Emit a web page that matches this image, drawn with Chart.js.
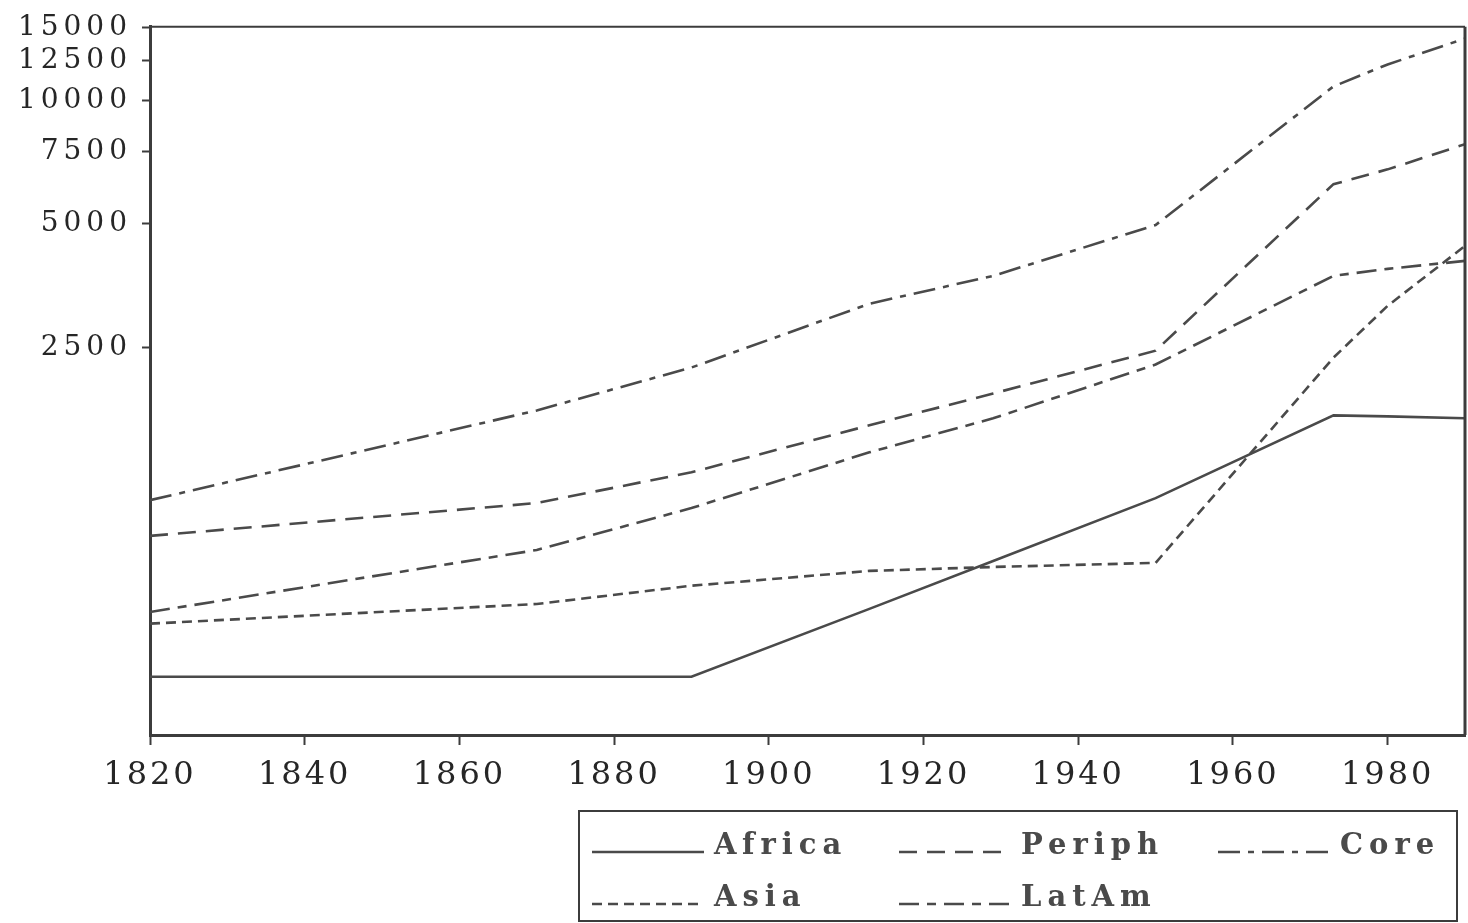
<!DOCTYPE html>
<html>
<head>
<meta charset="utf-8">
<script src="https://cdn.jsdelivr.net/npm/chart.js@4/dist/chart.umd.min.js"></script>
<style>
  html, body { margin: 0; padding: 0; background: #fff; }
  #chart { display: block; }
</style>
</head>
<body>
<canvas id="chart" width="1468" height="923"></canvas>
<script>
// GDP per head, log scale
const years  = [1820, 1870, 1890, 1913, 1929, 1950, 1973, 1980, 1990];
const africa = [395, 395, 395, 578, 756, 1075, 1710, 1700, 1682];
const periph = [870, 1046, 1243, 1617, 1933, 2458, 6250, 6790, 7817];
const core   = [1063, 1758, 2236, 3197, 3738, 4970, 10812, 12228, 14138];
const asia   = [532, 594, 658, 715, 731, 748, 2364, 3160, 4421];
const latam  = [568, 804, 1017, 1390, 1682, 2274, 3738, 3888, 4065];

const xTicks = [1820, 1840, 1860, 1880, 1900, 1920, 1940, 1960, 1980];
const yTicks = [2500, 5000, 7500, 10000, 12500, 15000];

const ink = '#3c3c3c';
const lineInk = '#4a4a4a';
const textInk = '#262626';
const fontFamily = '"DejaVu Serif", "Liberation Serif", serif';

const series = [
  { label: 'Africa', data: africa, dash: [] },
  { label: 'Periph', data: periph, dash: [18, 10] },
  { label: 'Core',   data: core,   dash: [22, 8, 6, 8] },
  { label: 'Asia',   data: asia,   dash: [10, 6] },
  { label: 'LatAm',  data: latam,  dash: [20, 8, 9, 8] },
];

const datasets = series.map(s => ({
  label: s.label,
  data: years.map((y, i) => ({ x: y, y: s.data[i] })),
  borderColor: lineInk,
  borderWidth: 2.6,
  borderDash: s.dash,
  pointRadius: 0,
  tension: 0,
  fill: false,
}));

// the scan uses widely spaced digits, so spread the tick labels out
const spacing = {
  id: 'spacing',
  beforeDraw(chart) {
    [['x', '3px'], ['y', '5px']].forEach(([id, sp]) => {
      const scale = chart.scales[id];
      if (!scale || scale._spaced) return;
      const orig = scale.drawLabels.bind(scale);
      scale.drawLabels = area => {
        chart.ctx.letterSpacing = sp;
        orig(area);
        chart.ctx.letterSpacing = '0px';
      };
      scale._spaced = true;
    });
  }
};

// top and right edges of the box
const frame = {
  id: 'frame',
  afterDatasetsDraw(chart) {
    const { ctx, chartArea: a } = chart;
    ctx.save();
    ctx.strokeStyle = ink;
    ctx.lineWidth = 2;
    ctx.beginPath();
    ctx.moveTo(a.left, a.top);
    ctx.lineTo(a.right, a.top);
    ctx.stroke();
    ctx.lineWidth = 3;
    ctx.beginPath();
    ctx.moveTo(a.right, a.top);
    ctx.lineTo(a.right, a.bottom);
    ctx.stroke();
    ctx.restore();
  }
};

// boxed legend under the plot, two rows
const legendBox = {
  id: 'legendBox',
  afterDraw(chart) {
    const ctx = chart.ctx;
    const cols = [592, 899, 1218];
    const rows = [852, 904];
    ctx.save();
    ctx.strokeStyle = ink;
    ctx.lineWidth = 2;
    ctx.strokeRect(579, 811, 878, 110);
    ctx.font = 'bold 29px ' + fontFamily;
    ctx.fillStyle = '#4a4a4a';
    ctx.textBaseline = 'alphabetic';
    ctx.letterSpacing = '6px';
    chart.data.datasets.forEach((ds, i) => {
      const x = cols[i % 3];
      const y = rows[Math.floor(i / 3)];
      ctx.setLineDash(ds.borderDash);
      ctx.strokeStyle = lineInk;
      ctx.lineWidth = 2.5;
      ctx.beginPath();
      ctx.moveTo(x, y);
      ctx.lineTo(x + 112, y);
      ctx.stroke();
      ctx.setLineDash([]);
      ctx.fillText(ds.label, x + 122, y + 2);
    });
    ctx.restore();
  }
};

new Chart(document.getElementById('chart'), {
  type: 'line',
  data: { datasets },
  options: {
    responsive: false,
    animation: false,
    layout: { padding: { top: 25, right: 3, left: 0, bottom: 0 } },
    plugins: { legend: { display: false }, tooltip: { enabled: false } },
    scales: {
      x: {
        type: 'linear',
        min: 1820,
        max: 1990,
        afterBuildTicks: s => { s.ticks = xTicks.map(v => ({ value: v })); },
        afterFit: s => { s.height = 188; },
        grid: { drawOnChartArea: false, tickLength: 10, tickWidth: 2, tickColor: ink },
        border: { display: true, color: ink, width: 3 },
        ticks: {
          callback: v => String(v),
          autoSkip: false,
          maxRotation: 0,
          padding: 11,
          color: textInk,
          font: { family: fontFamily, size: 32 }
        }
      },
      y: {
        type: 'logarithmic',
        min: 285,
        max: 15100,
        afterBuildTicks: s => { s.ticks = yTicks.map(v => ({ value: v })); },
        afterFit: s => { s.width = 150; },
        grid: { drawOnChartArea: false, tickLength: 8, tickWidth: 2, tickColor: ink },
        border: { display: true, color: ink, width: 3 },
        ticks: {
          callback: v => String(v),
          autoSkip: false,
          padding: 10,
          color: textInk,
          font: { family: fontFamily, size: 28 }
        }
      }
    }
  },
  plugins: [spacing, frame, legendBox]
});
</script>
</body>
</html>
